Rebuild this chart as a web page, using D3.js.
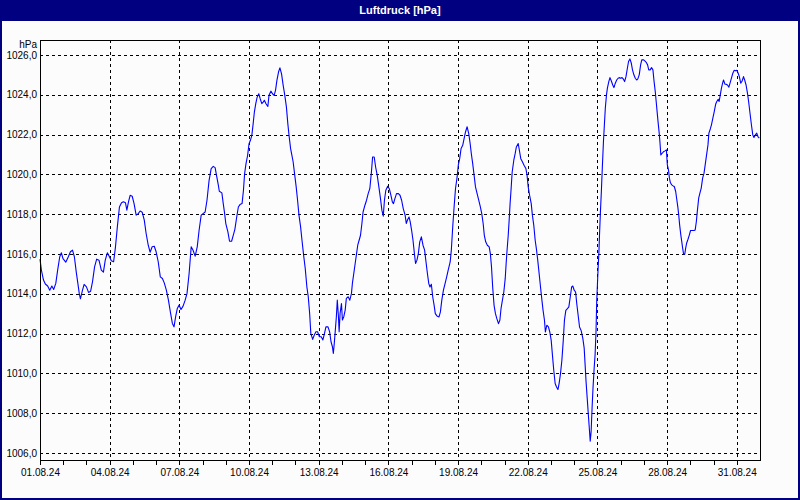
<!DOCTYPE html>
<html>
<head>
<meta charset="utf-8">
<script src="https://cdn.jsdelivr.net/npm/d3@7"></script>
<style>
html,body{margin:0;padding:0;background:#fcfcfc;}
svg{display:block;}
</style>
</head>
<body>
<div id="chart"></div>
<script>
// ---- data ----
const title = "Luftdruck [hPa]";
const unitLabel = "hPa";
const startDate = "2024-08-01T00:00:00";
const endDate = "2024-09-01T00:00:00";
// days since 01.08.24 00:00
const times = [
0.00,0.06,0.15,0.23,0.33,0.42,0.51,0.59,0.68,0.76,0.85,0.92,0.99,1.11,1.22,1.31,1.40,1.48,1.56,1.63,
1.69,1.74,1.83,1.90,2.00,2.09,2.18,2.26,2.35,2.44,2.54,2.64,2.73,2.81,2.90,2.99,3.07,3.17,3.25,3.33,
3.42,3.51,3.59,3.68,3.74,3.81,3.88,3.97,4.05,4.14,4.23,4.31,4.40,4.49,4.57,4.66,4.74,4.83,4.92,5.00,
5.09,5.18,5.27,5.35,5.44,5.53,5.61,5.70,5.77,5.84,5.91,5.99,6.07,6.16,6.25,6.33,6.42,6.51,6.59,6.68,
6.77,6.85,6.94,7.02,7.11,7.19,7.28,7.37,7.46,7.54,7.60,7.68,7.72,7.83,7.89,7.95,8.00,8.09,8.16,8.25,
8.32,8.39,8.47,8.54,8.61,8.70,8.76,8.81,8.87,8.94,9.00,9.06,9.12,9.17,9.23,9.29,9.35,9.42,9.48,9.55,
9.61,9.66,9.73,9.81,9.86,9.94,10.01,10.08,10.14,10.20,10.27,10.33,10.40,10.47,10.54,10.61,10.67,10.73,10.79,10.84,
10.90,10.96,11.03,11.09,11.15,11.22,11.28,11.35,11.42,11.49,11.55,11.61,11.66,11.74,11.81,11.88,11.95,12.03,12.11,12.18,
12.25,12.31,12.40,12.47,12.53,12.59,12.63,12.67,12.71,12.76,12.80,12.85,12.88,12.92,12.98,13.02,13.08,13.14,13.19,13.27,
13.34,13.41,13.45,13.51,13.57,13.63,13.68,13.74,13.80,13.86,13.91,13.99,14.06,14.13,14.20,14.27,14.32,14.39,14.45,14.52,
14.59,14.66,14.72,14.78,14.83,14.89,14.97,15.04,15.11,15.17,15.22,15.28,15.35,15.43,15.50,15.57,15.64,15.72,15.77,15.83,
15.89,15.94,16.00,16.06,16.12,16.17,16.23,16.29,16.35,16.42,16.49,16.56,16.62,16.68,16.74,16.79,16.85,16.91,16.97,17.02,
17.09,17.18,17.24,17.30,17.37,17.44,17.51,17.58,17.66,17.71,17.77,17.83,17.89,17.96,18.01,18.07,18.13,18.20,18.26,18.32,
18.39,18.46,18.52,18.57,18.63,18.69,18.75,18.82,18.89,18.96,19.02,19.08,19.13,19.19,19.26,19.34,19.39,19.44,19.49,19.55,
19.61,19.67,19.74,19.80,19.85,19.91,19.97,20.03,20.07,20.11,20.16,20.20,20.24,20.28,20.33,20.40,20.46,20.51,20.59,20.64,
20.70,20.77,20.84,20.92,20.97,21.02,21.08,21.15,21.20,21.26,21.32,21.38,21.43,21.49,21.55,21.61,21.66,21.72,21.76,21.82,
21.89,21.95,22.01,22.07,22.12,22.18,22.24,22.30,22.35,22.41,22.47,22.53,22.58,22.64,22.71,22.77,22.83,22.89,22.94,23.00,
23.06,23.11,23.17,23.23,23.30,23.37,23.43,23.47,23.51,23.56,23.60,23.64,23.69,23.73,23.77,23.81,23.86,23.90,23.94,23.97,
24.00,24.03,24.06,24.09,24.13,24.17,24.21,24.26,24.30,24.34,24.39,24.43,24.49,24.54,24.60,24.66,24.71,24.77,24.83,24.89,
24.94,25.00,25.06,25.11,25.17,25.23,25.29,25.34,25.40,25.46,25.51,25.57,25.63,25.69,25.74,25.80,25.86,25.91,25.99,26.04,
26.10,26.16,26.21,26.27,26.33,26.39,26.44,26.49,26.53,26.57,26.61,26.66,26.69,26.73,26.79,26.86,26.91,26.97,27.01,27.06,
27.10,27.14,27.20,27.26,27.31,27.37,27.41,27.46,27.50,27.54,27.59,27.63,27.67,27.71,27.76,27.80,27.84,27.90,27.96,28.01,
28.09,28.16,28.21,28.26,28.30,28.36,28.41,28.47,28.53,28.59,28.64,28.70,28.76,28.80,28.86,28.91,28.97,29.03,29.09,29.14,
29.20,29.24,29.29,29.34,29.39,29.43,29.49,29.54,29.60,29.66,29.71,29.77,29.83,29.89,29.94,30.00,30.06,30.11,30.17,30.23,
30.29,30.34,30.40,30.46,30.51,30.57,30.63,30.69,30.74,30.80,30.86,30.91,30.97
];
// air pressure, hPa
const values = [
1015.74,1015.19,1014.69,1014.49,1014.39,1014.18,1014.39,1014.22,1014.52,1015.19,1015.86,1016.06,1015.77,1015.59,1015.86,1016.11,1016.19,1015.86,1015.10,1014.52,
1014.02,1013.75,1014.18,1014.47,1014.35,1014.07,1014.13,1014.60,1015.35,1015.74,1015.69,1015.19,1015.09,1015.69,1016.06,1015.86,1015.66,1015.61,1016.36,1017.36,
1018.36,1018.57,1018.62,1018.57,1018.20,1018.62,1018.95,1018.90,1018.53,1017.95,1018.03,1018.16,1018.10,1017.70,1017.03,1016.44,1016.09,1016.36,1016.39,1016.11,
1015.61,1014.85,1014.77,1014.55,1014.18,1013.68,1013.10,1012.51,1012.34,1012.85,1013.26,1013.43,1013.21,1013.38,1013.68,1014.02,1015.02,1016.36,1016.19,1015.89,
1016.36,1017.19,1017.95,1018.03,1018.11,1018.70,1019.70,1020.29,1020.40,1020.34,1019.95,1019.45,1019.15,1019.07,1018.53,1018.03,1017.53,1017.11,1016.64,1016.64,
1016.94,1017.24,1017.86,1018.36,1018.48,1018.53,1019.20,1020.04,1020.54,1020.96,1021.54,1021.71,1021.96,1022.46,1023.13,1023.55,1023.88,1024.05,1023.80,1023.55,
1023.63,1023.72,1023.55,1023.41,1023.97,1024.18,1024.05,1023.97,1024.22,1024.72,1025.14,1025.35,1025.05,1024.47,1023.97,1023.38,1022.55,1021.88,1021.29,1020.99,
1020.62,1020.04,1019.37,1018.70,1017.95,1017.36,1016.69,1015.94,1015.27,1014.35,1013.85,1013.01,1012.01,1011.71,1011.93,1012.09,1012.09,1011.84,1011.84,1011.68,
1012.01,1012.34,1012.34,1012.09,1011.59,1011.34,1011.00,1011.51,1012.09,1012.85,1013.68,1012.85,1012.09,1013.01,1013.51,1012.68,1012.85,1013.18,1013.77,1013.85,
1013.68,1014.02,1014.52,1015.02,1015.52,1016.02,1016.44,1016.69,1016.94,1017.53,1018.11,1018.45,1018.70,1019.03,1019.28,1020.12,1020.87,1020.87,1020.37,1019.95,
1019.37,1018.78,1018.20,1017.90,1018.70,1019.20,1019.40,1019.28,1018.95,1018.62,1018.53,1018.78,1019.03,1019.03,1018.95,1018.70,1018.28,1017.95,1017.53,1017.73,
1017.86,1017.61,1017.19,1016.69,1016.02,1015.52,1015.69,1016.02,1016.61,1016.86,1016.44,1016.19,1015.60,1015.02,1014.51,1014.34,1014.48,1013.84,1013.42,1013.00,
1012.89,1012.84,1013.09,1013.68,1014.18,1014.51,1014.85,1015.22,1015.60,1016.19,1017.36,1018.37,1019.29,1019.87,1020.46,1020.79,1021.30,1021.46,1021.80,1022.13,
1022.39,1022.05,1021.55,1021.05,1020.54,1019.96,1019.37,1019.03,1018.70,1018.37,1018.03,1017.53,1016.94,1016.61,1016.44,1016.36,1016.02,1015.35,1014.34,1013.42,
1013.00,1012.75,1012.50,1012.67,1013.26,1013.68,1014.09,1014.76,1015.52,1016.19,1016.94,1017.70,1018.53,1019.20,1020.12,1020.71,1021.05,1021.38,1021.55,1021.21,
1020.79,1020.63,1020.46,1020.29,1019.96,1019.37,1018.95,1018.53,1017.95,1017.44,1016.69,1016.19,1015.69,1015.02,1014.34,1013.68,1013.17,1012.67,1012.08,1012.42,
1012.34,1012.08,1011.66,1010.83,1010.16,1009.49,1009.32,1009.19,1009.49,1009.99,1010.66,1011.66,1012.67,1013.17,1013.26,1013.34,1013.84,1014.34,1014.39,1014.18,
1014.09,1013.51,1012.92,1012.33,1012.15,1011.77,1011.27,1010.44,1009.60,1008.76,1008.09,1007.42,1006.59,1007.09,1008.26,1009.26,1010.27,1010.94,1012.11,1013.62,
1014.45,1015.29,1015.96,1016.96,1018.13,1019.14,1020.31,1021.65,1022.49,1023.32,1023.99,1024.33,1024.66,1024.86,1024.69,1024.49,1024.36,1024.58,1024.74,1024.83,
1024.86,1024.83,1024.86,1024.80,1024.66,1024.91,1025.33,1025.67,1025.80,1025.58,1025.25,1025.00,1024.83,1024.74,1024.80,1025.00,1025.50,1025.75,1025.75,1025.70,
1025.63,1025.50,1025.25,1025.25,1025.36,1025.25,1024.66,1024.16,1023.66,1023.15,1022.65,1022.07,1021.65,1020.98,1021.06,1021.15,1021.18,1021.23,1020.48,1020.23,
1019.81,1019.59,1019.47,1019.42,1019.39,1019.14,1018.80,1018.38,1017.97,1017.46,1016.96,1016.63,1016.29,1015.99,1015.99,1016.29,1016.54,1016.74,1016.96,1017.18,
1017.18,1017.18,1017.21,1017.63,1018.13,1018.80,1019.05,1019.31,1019.81,1020.06,1020.48,1020.98,1021.48,1022.07,1022.28,1022.49,1022.82,1023.15,1023.52,1023.66,
1023.77,1023.66,1023.99,1024.33,1024.58,1024.74,1024.53,1024.53,1024.49,1024.38,1024.58,1024.83,1025.08,1025.23,1025.20,1025.23,1025.08,1024.91,1024.58,1024.69,
1024.91,1024.74,1024.49,1024.08,1023.66,1023.07,1022.49,1021.98,1021.85,1021.98,1022.07,1021.90,1021.82
];
const yTicks = [1006,1008,1010,1012,1014,1016,1018,1020,1022,1024,1026];
const xTickLabelsEveryDays = 3;
const yDomain = [1005.65, 1026.75];

// ---- layout ----
const W = 800, H = 500;
const plot = {left: 40, top: 40, right: 760, bottom: 460};
const navy = "#000080";
const font = "'Liberation Sans', Arial, sans-serif";

const svg = d3.select("#chart").append("svg").attr("width", W).attr("height", H);

// background + window frame
svg.append("rect").attr("x",0).attr("y",0).attr("width",W).attr("height",H).attr("fill","#fcfcfc");
svg.append("rect").attr("x",0).attr("y",0).attr("width",W).attr("height",21).attr("fill",navy);
svg.append("rect").attr("x",1).attr("y",1).attr("width",W-2).attr("height",H-2)
  .attr("fill","none").attr("stroke",navy).attr("stroke-width",2);
svg.append("text").attr("x",W/2).attr("y",14).attr("text-anchor","middle")
  .attr("fill","#ffffff").attr("font-family",font).attr("font-weight","bold").attr("font-size","11px")
  .text(title);

const parse = d3.isoParse;
const t0 = parse(startDate), t1 = parse(endDate);
const DAY = 86400000;
const data = times.map((d,i) => ({t: new Date(t0.getTime() + d*DAY), v: values[i]}));

const x = d3.scaleTime().domain([t0, t1]).range([plot.left, plot.right]);
const y = d3.scaleLinear().domain(yDomain).range([plot.bottom, plot.top]);

const g = svg.append("g");

// horizontal grid
g.selectAll("line.hg").data(yTicks).join("line")
  .attr("x1", plot.left).attr("x2", plot.right)
  .attr("y1", d => Math.round(y(d)) + 0.5).attr("y2", d => Math.round(y(d)) + 0.5)
  .attr("stroke","#000").attr("stroke-dasharray","3,3").attr("shape-rendering","crispEdges");

// vertical grid
const days = d3.timeDay.range(t0, t1);
const labelDays = days.filter((d,i) => i % xTickLabelsEveryDays === 0);
g.selectAll("line.vg").data(labelDays.slice(1)).join("line")
  .attr("x1", d => Math.round(x(d)) + 0.5).attr("x2", d => Math.round(x(d)) + 0.5)
  .attr("y1", plot.top).attr("y2", plot.bottom)
  .attr("stroke","#000").attr("stroke-dasharray","3,3").attr("shape-rendering","crispEdges");

// data line
const line = d3.line().x(d => x(d.t)).y(d => y(d.v));
g.append("path").datum(data).attr("d", line)
  .attr("fill","none").attr("stroke","#0000ff").attr("stroke-width",1.1)
  .attr("stroke-linejoin","round");

// frame
g.append("rect").attr("x",plot.left+0.5).attr("y",plot.top+0.5)
  .attr("width",plot.right-plot.left).attr("height",plot.bottom-plot.top)
  .attr("fill","none").attr("stroke","#000").attr("shape-rendering","crispEdges");

// x axis (daily ticks, labels every 3 days)
const fmtX = d3.timeFormat("%d.%m.%y");
const xAxis = d3.axisBottom(x).tickValues(days).tickSize(4).tickSizeOuter(0)
  .tickFormat(d => labelDays.some(l => +l === +d) ? fmtX(d) : "");
const xa = svg.append("g").attr("transform",`translate(0,${plot.bottom+1})`).call(xAxis);
xa.select(".domain").remove();
xa.selectAll("line").attr("stroke","#000").attr("shape-rendering","crispEdges");
xa.selectAll("text").attr("font-family",font).attr("font-size","10px").attr("fill","#000").attr("dy","0.9em").attr("y",6);

// y axis labels
const fmtY = v => d3.format(".1f")(v).replace(".", ",");
const yAxis = d3.axisLeft(y).tickValues(yTicks).tickSize(0).tickFormat(fmtY);
const ya = svg.append("g").attr("transform",`translate(${plot.left},0)`).call(yAxis);
ya.select(".domain").remove();
ya.selectAll("text").attr("font-family",font).attr("font-size","10px").attr("fill","#000").attr("x",-3);

svg.append("text").attr("x", plot.left-3).attr("y", plot.top+8).attr("text-anchor","end")
  .attr("font-family",font).attr("font-size","10px").attr("fill","#000").text(unitLabel);
</script>
</body>
</html>
